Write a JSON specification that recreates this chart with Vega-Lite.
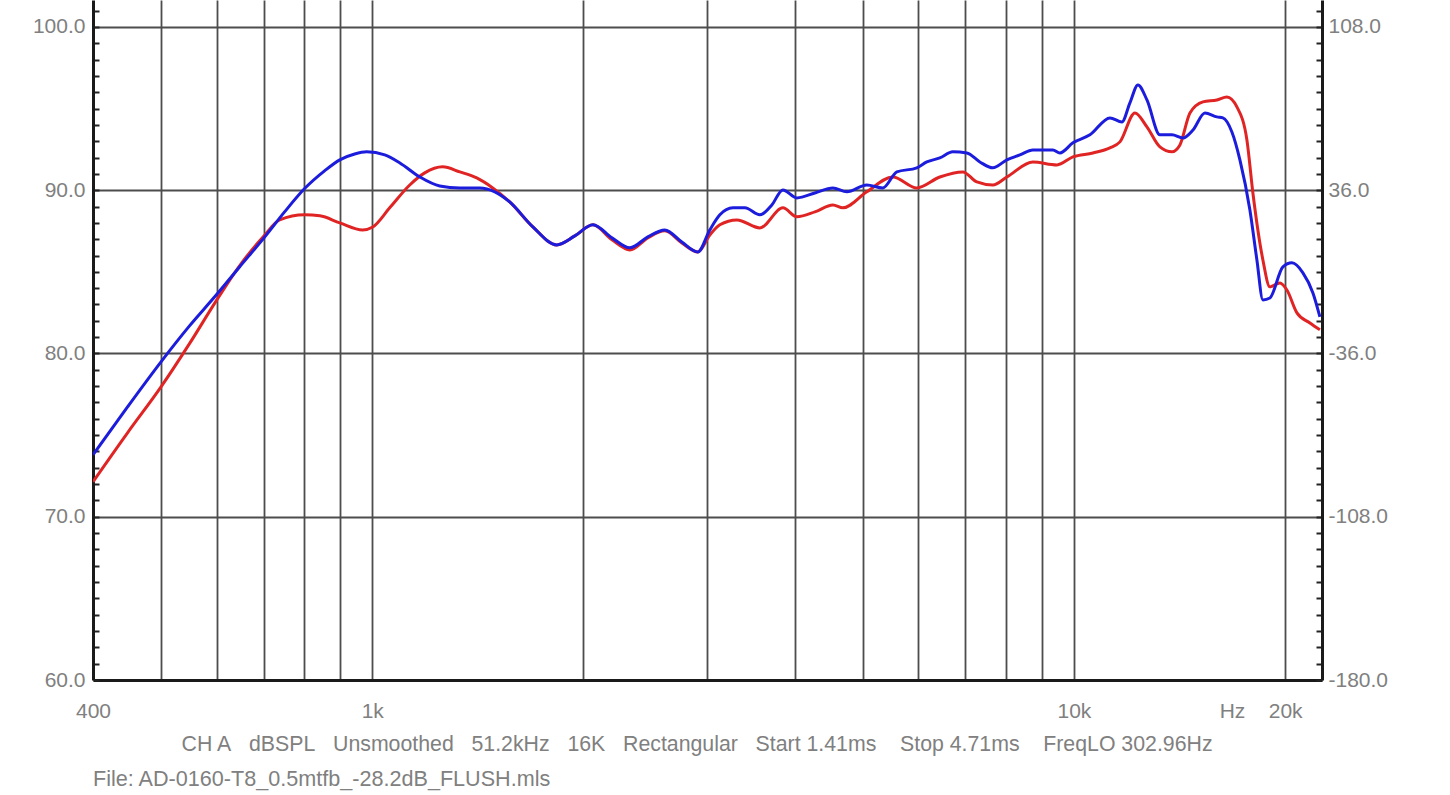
{
  "$schema": "https://vega.github.io/schema/vega-lite/v6.json",
  "width": 1229,
  "height": 680,
  "autosize": {"type": "none"},
  "padding": {"left": 93, "top": 0, "right": 128, "bottom": 115},
  "background": "white",
  "config": {
    "view": {"stroke": null},
    "font": "Liberation Sans",
    "axis": {
      "labelFont": "Liberation Sans",
      "labelFontSize": 21,
      "labelColor": "#808080",
      "domainColor": "#1a1a1a",
      "domainWidth": 3,
      "tickColor": "#222222",
      "tickWidth": 2,
      "gridWidth": 1.8,
      "labelOverlap": false,
      "labelFlush": false,
      "labelBound": false
    }
  },
  "title": {
    "text": "File: AD-0160-T8_0.5mtfb_-28.2dB_FLUSH.mls",
    "orient": "bottom",
    "anchor": "start",
    "frame": "group",
    "font": "Liberation Sans",
    "fontSize": 21.6,
    "fontWeight": "normal",
    "color": "#808080",
    "offset": 15
  },
  "datasets": {
    "curves": [
      {"freq": 400, "spl": 72.14, "trace": "A"},
      {"freq": 448, "spl": 75.14, "trace": "A"},
      {"freq": 500, "spl": 77.95, "trace": "A"},
      {"freq": 549, "spl": 80.60, "trace": "A"},
      {"freq": 598, "spl": 83.16, "trace": "A"},
      {"freq": 647, "spl": 85.37, "trace": "A"},
      {"freq": 703, "spl": 87.26, "trace": "A"},
      {"freq": 738, "spl": 88.18, "trace": "A"},
      {"freq": 801, "spl": 88.49, "trace": "A"},
      {"freq": 842, "spl": 88.43, "trace": "A"},
      {"freq": 899, "spl": 88.00, "trace": "A"},
      {"freq": 969, "spl": 87.57, "trace": "A"},
      {"freq": 1002, "spl": 87.75, "trace": "A"},
      {"freq": 1059, "spl": 88.92, "trace": "A"},
      {"freq": 1131, "spl": 90.32, "trace": "A"},
      {"freq": 1188, "spl": 91.06, "trace": "A"},
      {"freq": 1260, "spl": 91.43, "trace": "A"},
      {"freq": 1333, "spl": 91.12, "trace": "A"},
      {"freq": 1409, "spl": 90.75, "trace": "A"},
      {"freq": 1485, "spl": 90.14, "trace": "A"},
      {"freq": 1570, "spl": 89.28, "trace": "A"},
      {"freq": 1694, "spl": 87.75, "trace": "A"},
      {"freq": 1832, "spl": 86.65, "trace": "A"},
      {"freq": 1944, "spl": 87.20, "trace": "A"},
      {"freq": 2063, "spl": 87.88, "trace": "A"},
      {"freq": 2196, "spl": 86.96, "trace": "A"},
      {"freq": 2329, "spl": 86.34, "trace": "A"},
      {"freq": 2470, "spl": 87.08, "trace": "A"},
      {"freq": 2612, "spl": 87.51, "trace": "A"},
      {"freq": 2762, "spl": 86.77, "trace": "A"},
      {"freq": 2911, "spl": 86.22, "trace": "A"},
      {"freq": 3028, "spl": 87.26, "trace": "A"},
      {"freq": 3129, "spl": 87.88, "trace": "A"},
      {"freq": 3309, "spl": 88.18, "trace": "A"},
      {"freq": 3568, "spl": 87.69, "trace": "A"},
      {"freq": 3848, "spl": 88.92, "trace": "A"},
      {"freq": 4029, "spl": 88.37, "trace": "A"},
      {"freq": 4274, "spl": 88.67, "trace": "A"},
      {"freq": 4534, "spl": 89.10, "trace": "A"},
      {"freq": 4685, "spl": 88.92, "trace": "A"},
      {"freq": 5068, "spl": 89.90, "trace": "A"},
      {"freq": 5520, "spl": 90.81, "trace": "A"},
      {"freq": 5972, "spl": 90.14, "trace": "A"},
      {"freq": 6440, "spl": 90.81, "trace": "A"},
      {"freq": 6945, "spl": 91.12, "trace": "A"},
      {"freq": 7272, "spl": 90.51, "trace": "A"},
      {"freq": 7664, "spl": 90.32, "trace": "A"},
      {"freq": 8025, "spl": 90.81, "trace": "A"},
      {"freq": 8740, "spl": 91.73, "trace": "A"},
      {"freq": 9457, "spl": 91.55, "trace": "A"},
      {"freq": 9967, "spl": 92.04, "trace": "A"},
      {"freq": 10643, "spl": 92.28, "trace": "A"},
      {"freq": 11254, "spl": 92.59, "trace": "A"},
      {"freq": 11630, "spl": 92.96, "trace": "A"},
      {"freq": 12216, "spl": 94.73, "trace": "A"},
      {"freq": 12707, "spl": 93.88, "trace": "A"},
      {"freq": 13261, "spl": 92.65, "trace": "A"},
      {"freq": 13794, "spl": 92.35, "trace": "A"},
      {"freq": 14160, "spl": 92.77, "trace": "A"},
      {"freq": 14633, "spl": 94.73, "trace": "A"},
      {"freq": 15271, "spl": 95.41, "trace": "A"},
      {"freq": 15986, "spl": 95.53, "trace": "A"},
      {"freq": 16519, "spl": 95.71, "trace": "A"},
      {"freq": 17071, "spl": 95.10, "trace": "A"},
      {"freq": 17641, "spl": 93.08, "trace": "A"},
      {"freq": 17991, "spl": 89.83, "trace": "A"},
      {"freq": 18591, "spl": 85.73, "trace": "A"},
      {"freq": 19023, "spl": 84.08, "trace": "A"},
      {"freq": 19658, "spl": 84.32, "trace": "A"},
      {"freq": 20115, "spl": 83.89, "trace": "A"},
      {"freq": 20787, "spl": 82.49, "trace": "A"},
      {"freq": 21693, "spl": 81.87, "trace": "A"},
      {"freq": 22416, "spl": 81.45, "trace": "A"},
      {"freq": 400, "spl": 73.79, "trace": "B"},
      {"freq": 448, "spl": 76.73, "trace": "B"},
      {"freq": 500, "spl": 79.49, "trace": "B"},
      {"freq": 549, "spl": 81.69, "trace": "B"},
      {"freq": 598, "spl": 83.53, "trace": "B"},
      {"freq": 647, "spl": 85.30, "trace": "B"},
      {"freq": 703, "spl": 87.14, "trace": "B"},
      {"freq": 750, "spl": 88.67, "trace": "B"},
      {"freq": 801, "spl": 90.10, "trace": "B"},
      {"freq": 856, "spl": 91.20, "trace": "B"},
      {"freq": 899, "spl": 91.86, "trace": "B"},
      {"freq": 944, "spl": 92.22, "trace": "B"},
      {"freq": 982, "spl": 92.35, "trace": "B"},
      {"freq": 1042, "spl": 92.16, "trace": "B"},
      {"freq": 1095, "spl": 91.67, "trace": "B"},
      {"freq": 1169, "spl": 90.81, "trace": "B"},
      {"freq": 1248, "spl": 90.26, "trace": "B"},
      {"freq": 1333, "spl": 90.14, "trace": "B"},
      {"freq": 1423, "spl": 90.14, "trace": "B"},
      {"freq": 1495, "spl": 89.90, "trace": "B"},
      {"freq": 1570, "spl": 89.28, "trace": "B"},
      {"freq": 1694, "spl": 87.75, "trace": "B"},
      {"freq": 1832, "spl": 86.65, "trace": "B"},
      {"freq": 1944, "spl": 87.20, "trace": "B"},
      {"freq": 2063, "spl": 87.88, "trace": "B"},
      {"freq": 2196, "spl": 87.08, "trace": "B"},
      {"freq": 2329, "spl": 86.47, "trace": "B"},
      {"freq": 2470, "spl": 87.14, "trace": "B"},
      {"freq": 2612, "spl": 87.57, "trace": "B"},
      {"freq": 2762, "spl": 86.83, "trace": "B"},
      {"freq": 2911, "spl": 86.22, "trace": "B"},
      {"freq": 3028, "spl": 87.57, "trace": "B"},
      {"freq": 3129, "spl": 88.49, "trace": "B"},
      {"freq": 3265, "spl": 88.92, "trace": "B"},
      {"freq": 3397, "spl": 88.92, "trace": "B"},
      {"freq": 3568, "spl": 88.49, "trace": "B"},
      {"freq": 3711, "spl": 89.10, "trace": "B"},
      {"freq": 3848, "spl": 90.02, "trace": "B"},
      {"freq": 4029, "spl": 89.53, "trace": "B"},
      {"freq": 4274, "spl": 89.83, "trace": "B"},
      {"freq": 4534, "spl": 90.14, "trace": "B"},
      {"freq": 4747, "spl": 89.90, "trace": "B"},
      {"freq": 5068, "spl": 90.32, "trace": "B"},
      {"freq": 5342, "spl": 90.14, "trace": "B"},
      {"freq": 5593, "spl": 91.12, "trace": "B"},
      {"freq": 5972, "spl": 91.37, "trace": "B"},
      {"freq": 6171, "spl": 91.73, "trace": "B"},
      {"freq": 6440, "spl": 91.98, "trace": "B"},
      {"freq": 6721, "spl": 92.35, "trace": "B"},
      {"freq": 7037, "spl": 92.28, "trace": "B"},
      {"freq": 7344, "spl": 91.73, "trace": "B"},
      {"freq": 7664, "spl": 91.37, "trace": "B"},
      {"freq": 8025, "spl": 91.86, "trace": "B"},
      {"freq": 8375, "spl": 92.16, "trace": "B"},
      {"freq": 8740, "spl": 92.47, "trace": "B"},
      {"freq": 9333, "spl": 92.47, "trace": "B"},
      {"freq": 9550, "spl": 92.28, "trace": "B"},
      {"freq": 9967, "spl": 92.90, "trace": "B"},
      {"freq": 10539, "spl": 93.39, "trace": "B"},
      {"freq": 11254, "spl": 94.43, "trace": "B"},
      {"freq": 11706, "spl": 94.18, "trace": "B"},
      {"freq": 12017, "spl": 95.35, "trace": "B"},
      {"freq": 12337, "spl": 96.45, "trace": "B"},
      {"freq": 12707, "spl": 95.53, "trace": "B"},
      {"freq": 13261, "spl": 93.39, "trace": "B"},
      {"freq": 13794, "spl": 93.39, "trace": "B"},
      {"freq": 14300, "spl": 93.20, "trace": "B"},
      {"freq": 14778, "spl": 93.69, "trace": "B"},
      {"freq": 15371, "spl": 94.73, "trace": "B"},
      {"freq": 15986, "spl": 94.49, "trace": "B"},
      {"freq": 16304, "spl": 94.43, "trace": "B"},
      {"freq": 16793, "spl": 93.57, "trace": "B"},
      {"freq": 17240, "spl": 91.86, "trace": "B"},
      {"freq": 17815, "spl": 88.79, "trace": "B"},
      {"freq": 18229, "spl": 85.73, "trace": "B"},
      {"freq": 18591, "spl": 83.28, "trace": "B"},
      {"freq": 19023, "spl": 83.40, "trace": "B"},
      {"freq": 19853, "spl": 85.30, "trace": "B"},
      {"freq": 20448, "spl": 85.55, "trace": "B"},
      {"freq": 21200, "spl": 84.94, "trace": "B"},
      {"freq": 21908, "spl": 83.71, "trace": "B"},
      {"freq": 22416, "spl": 82.24, "trace": "B"}
    ]
  },
  "data": {"name": "curves"},
  "encoding": {
    "x": {
      "field": "freq",
      "type": "quantitative",
      "scale": {"type": "log", "domain": [400, 22570], "nice": false},
      "axis": {
        "values": [400, 500, 600, 700, 800, 900, 1000, 2000, 3000, 4000, 5000, 6000, 7000, 8000, 9000, 10000, 16800, 20000],
        "labelExpr": "datum.value == 400 ? '400' : datum.value == 1000 ? '1k' : datum.value == 10000 ? '10k' : datum.value == 16800 ? 'Hz' : datum.value == 20000 ? '20k' : ''",
        "grid": true,
        "gridColor": {"condition": {"test": "datum.value == 400 || datum.value == 16800", "value": "transparent"}, "value": "#4d4d4d"},
        "ticks": false,
        "labelPadding": 20,
        "title": "CH A\u00a0\u00a0\u00a0dBSPL\u00a0\u00a0\u00a0Unsmoothed\u00a0\u00a0\u00a051.2kHz\u00a0\u00a0\u00a016K\u00a0\u00a0\u00a0Rectangular\u00a0\u00a0\u00a0Start 1.41ms\u00a0\u00a0\u00a0\u00a0Stop 4.71ms\u00a0\u00a0\u00a0\u00a0FreqLO 302.96Hz",
        "titleFont": "Liberation Sans",
        "titleFontSize": 21.3,
        "titleFontWeight": "normal",
        "titleColor": "#808080",
        "titleX": 88,
        "titleY": 70,
        "titleAlign": "left",
        "titleAnchor": "start",
        "titleBaseline": "alphabetic"
      }
    }
  },
  "layer": [
    {
      "transform": [{"filter": "datum.trace == 'A'"}],
      "mark": {"type": "line", "strokeWidth": 3, "interpolate": "monotone", "clip": true},
      "encoding": {
        "y": {
          "field": "spl",
          "type": "quantitative",
          "scale": {"domain": [60, 101.65], "nice": false, "zero": false},
          "axis": {
            "orient": "left",
            "values": [60,61,62,63,64,65,66,67,68,69,70,71,72,73,74,75,76,77,78,79,80,81,82,83,84,85,86,87,88,89,90,91,92,93,94,95,96,97,98,99,100,101],
            "labelExpr": "datum.value % 10 == 0 ? format(datum.value, '.1f') : ''",
            "grid": true,
            "gridColor": {"condition": {"test": "datum.value % 10 == 0 && datum.value > 60", "value": "#4d4d4d"}, "value": "transparent"},
            "tickSize": -6,
            "labelPadding": 14,
            "title": null
          }
        },
        "color": {"field": "trace", "type": "nominal", "scale": {"domain": ["A", "B"], "range": ["#e02424", "#1c1cdc"]}, "legend": null}
      }
    },
    {
      "transform": [{"filter": "datum.trace == 'B'"}],
      "mark": {"type": "line", "strokeWidth": 3, "interpolate": "monotone", "clip": true},
      "encoding": {
        "y": {
          "field": "spl",
          "type": "quantitative",
          "scale": {"domain": [60, 101.65], "nice": false, "zero": false},
          "axis": {
            "orient": "right",
            "values": [60,61,62,63,64,65,66,67,68,69,70,71,72,73,74,75,76,77,78,79,80,81,82,83,84,85,86,87,88,89,90,91,92,93,94,95,96,97,98,99,100,101],
            "labelExpr": "datum.value % 10 == 0 ? ((datum.value < 85 ? '-' : '') + format(abs((datum.value - 85) * 7.2), '.1f')) : ''",
            "grid": false,
            "tickSize": -6,
            "labelPadding": 12,
            "title": null
          }
        },
        "color": {"field": "trace", "type": "nominal", "scale": {"domain": ["A", "B"], "range": ["#e02424", "#1c1cdc"]}, "legend": null}
      }
    }
  ],
  "resolve": {"axis": {"y": "independent"}}
}
